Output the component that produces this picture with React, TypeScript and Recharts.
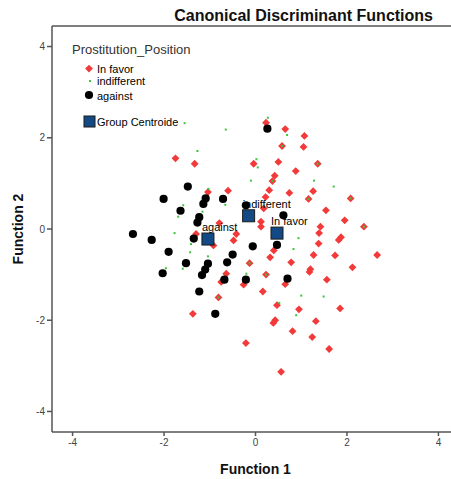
import { ScatterChart, Scatter, XAxis, YAxis, ReferenceLine, Label } from 'recharts';

// discriminant scores: [function 1, function 2]
const inFavorScores = [
  [0.23, 2.33], [0.65, 2.19], [1.07, 2.04], [-1.75, 1.55], [-1.33, 1.43], [0.58, 1.82],
  [1.05, 1.8], [0.5, 1.47], [-0.04, 1.43], [1.36, 1.43], [0.88, 1.27], [0.42, 1.17],
  [0.37, 1.05], [0.3, 0.85], [0.74, 0.79], [1.26, 0.83], [1.16, 0.66], [2.08, 0.67],
  [0.22, 0.7], [0.18, 0.45], [-1.04, 0.81], [-0.6, 0.84], [-0.79, 0.13], [1.54, 0.41],
  [0.12, 0.16], [0.12, 0.05], [-0.42, -0.11], [-0.48, -0.25], [1.95, 0.19], [1.42, 0.05],
  [1.39, -0.09], [2.37, 0.05], [1.87, -0.18], [1.82, -0.24], [1.38, -0.32], [0.4, -0.47],
  [0.32, -0.62], [1.27, -0.57], [1.74, -0.58], [2.66, -0.57], [0.78, -0.73], [-0.13, -0.75],
  [1.2, -0.88], [1.18, -0.94], [2.12, -0.84], [0.23, -1.0], [1.56, -1.11], [-0.26, -1.22],
  [0.65, -1.21], [0.16, -1.37], [0.47, -1.67], [0.95, -1.76], [1.85, -1.74], [0.43, -2.0],
  [0.39, -2.06], [1.32, -2.02], [0.81, -2.24], [1.24, -2.37], [-0.21, -2.5], [1.61, -2.63],
  [0.56, -3.13], [-1.3, -0.11], [-0.92, -0.36], [-0.64, -0.98], [-0.75, -1.16], [-0.81, -1.5],
  [-1.37, -1.86],
];

const indifferentScores = [
  [-1.55, 2.32], [-0.65, 2.18], [0.27, 2.44], [0.69, 2.06], [-1.27, 1.71], [-1.03, 0.88],
  [-1.58, 0.52], [-1.69, 0.27], [-1.16, 0.38], [-0.66, 0.53], [0.02, 1.53], [0.05, 1.35],
  [-0.1, 1.06], [1.28, 1.06], [1.71, 0.93], [-1.77, -0.09], [-1.41, -0.33], [-1.43, -0.51],
  [-1.04, -0.6], [-1.96, -0.86], [-1.59, -0.87], [0.94, -0.2], [0.83, -0.44], [-0.2, -0.98],
  [1.0, -1.46], [1.49, -1.48], [0.52, -1.62], [0.89, -1.89], [0.58, 1.82], [1.36, 1.43],
  [0.37, 1.05], [1.16, 0.66], [2.08, 0.67], [2.37, 0.05], [-0.13, -0.75], [0.23, -1.0],
  [-0.81, -1.5],
];

const againstScores = [
  [0.26, 2.2], [-1.48, 0.93], [-2.01, 0.66], [-1.09, 0.67], [-1.14, 0.55], [-0.71, 0.66],
  [-1.64, 0.4], [-1.23, 0.26], [-1.27, 0.14], [-0.21, 0.52], [0.61, 0.3], [-2.68, -0.11],
  [-2.27, -0.24], [-1.35, -0.21], [-1.9, -0.5], [-0.5, -0.56], [-1.52, -0.75], [-1.04, -0.76],
  [-1.1, -0.89], [-1.17, -1.01], [-0.62, -0.73], [-2.03, -0.97], [-0.68, -1.11], [-1.23, -1.37],
  [-0.88, -1.86], [0.47, -0.35], [-0.06, -0.38], [0.7, -1.09], [-0.21, -1.11],
];

const centroidNames = ['In favor', 'indifferent', 'against'];
const centroidF1 = [0.47, -0.15, -1.04];
const centroidF2 = [-0.09, 0.29, -0.22];

const axisTicks = [-4, -2, 0, 2, 4];
const axisMin = -4.45;
const axisMax = 4.45;

const FONT = '"Liberation Sans", Arial, sans-serif';
const AXIS_GREY = '#555';
const RED = '#f23a3a';
const GREEN = '#3cc43c';
const BLUE = '#134a85';

const toRows = (scores: number[][]) => scores.map(([f1, f2]) => ({ f1, f2 }));
const centroidRows = centroidNames.map((name, i) => ({ name, f1: centroidF1[i], f2: centroidF2[i] }));

const DiamondMark = (p: any) => (
  <path
    d={`M${p.cx},${p.cy - 3.9}L${p.cx + 3.9},${p.cy}L${p.cx},${p.cy + 3.9}L${p.cx - 3.9},${p.cy}Z`}
    fill={RED}
  />
);

const DotMark = (p: any) => <rect x={p.cx - 1} y={p.cy - 1} width={2} height={2} fill={GREEN} />;

const CircleMark = (p: any) => <circle cx={p.cx} cy={p.cy} r={4.1} fill="#000" />;

const CentroidMark = (p: any) => (
  <g>
    <rect x={p.cx - 6} y={p.cy - 6} width={12} height={12} fill={BLUE} stroke="#1a1a1a" strokeWidth={1} />
    <text x={p.cx - 6} y={p.cy - 8} fontSize={11} fontFamily={FONT} fill="#000">
      {p.payload.name}
    </text>
  </g>
);

const tickStyle = { fill: '#444', fontSize: 10, fontFamily: FONT };

function InPlotLegend() {
  return (
    <svg width={200} height={100} style={{ position: 'absolute', left: 0, top: 30 }}>
      <text x={72} y={24} fontSize={13} fontFamily={FONT} fill="#333">Prostitution_Position</text>
      <path d="M89,34.7L92.9,38.6L89,42.5L85.1,38.6Z" fill={RED} />
      <text x={97} y={43} fontSize={11} fontFamily={FONT} fill="#000">In favor</text>
      <rect x={89} y={50} width={2} height={2} fill={GREEN} />
      <text x={97} y={55} fontSize={11} fontFamily={FONT} fill="#000">indifferent</text>
      <circle cx={89} cy={65} r={4.1} fill="#000" />
      <text x={97} y={70} fontSize={11} fontFamily={FONT} fill="#000">against</text>
      <rect x={84} y={86} width={11} height={11} fill={BLUE} stroke="#1a1a1a" />
      <text x={97} y={96} fontSize={11} fontFamily={FONT} fill="#000">Group Centroide</text>
    </svg>
  );
}

export default function App() {
  return (
    <div
      style={{
        position: 'absolute',
        left: 0,
        top: 0,
        width: 451,
        height: 479,
        overflow: 'hidden',
        background: '#fff',
        fontFamily: FONT,
      }}
    >
      <div
        style={{
          position: 'absolute',
          left: 0,
          top: 7,
          width: 433,
          textAlign: 'right',
          fontSize: 16,
          fontWeight: 'bold',
          lineHeight: '18px',
          color: '#111',
        }}
      >
        Canonical Discriminant Functions
      </div>
      <ScatterChart width={460} height={479} margin={{ top: 26, right: 1, bottom: 0, left: 0 }}>
        <XAxis
          dataKey="f1"
          type="number"
          domain={[axisMin, axisMax]}
          ticks={axisTicks}
          allowDataOverflow
          height={47}
          tickSize={4}
          tickMargin={3}
          tick={tickStyle}
          axisLine={{ stroke: AXIS_GREY, strokeWidth: 1.5 }}
          tickLine={{ stroke: AXIS_GREY, strokeWidth: 1.5 }}
        >
          <Label
            content={(props: any) => {
              const vb = props.viewBox;
              return (
                <text x={vb.x + vb.width / 2} y={vb.y + 42} textAnchor="middle" fontSize={14} fontWeight="bold" fontFamily={FONT} fill="#111">
                  Function 1
                </text>
              );
            }}
          />
        </XAxis>
        <YAxis
          dataKey="f2"
          type="number"
          domain={[axisMin, axisMax]}
          ticks={axisTicks}
          allowDataOverflow
          width={52}
          tickSize={5}
          tickMargin={2}
          tick={tickStyle}
          axisLine={{ stroke: AXIS_GREY, strokeWidth: 1.5 }}
          tickLine={{ stroke: AXIS_GREY, strokeWidth: 1.5 }}
        >
          <Label
            content={(props: any) => {
              const vb = props.viewBox;
              const cy = vb.y + vb.height / 2;
              return (
                <text x={23} y={cy} transform={`rotate(-90, 23, ${cy})`} textAnchor="middle" fontSize={14} fontWeight="bold" fontFamily={FONT} fill="#111">
                  Function 2
                </text>
              );
            }}
          />
        </YAxis>
        <ReferenceLine y={axisMax} stroke={AXIS_GREY} strokeWidth={1.5} />
        <Scatter name="In favor" data={toRows(inFavorScores)} shape={DiamondMark} isAnimationActive={false} />
        <Scatter name="indifferent" data={toRows(indifferentScores)} shape={DotMark} isAnimationActive={false} />
        <Scatter name="Group Centroide" data={centroidRows} shape={CentroidMark} isAnimationActive={false} />
        <Scatter name="against" data={toRows(againstScores)} shape={CircleMark} isAnimationActive={false} />
      </ScatterChart>
      <InPlotLegend />
    </div>
  );
}
